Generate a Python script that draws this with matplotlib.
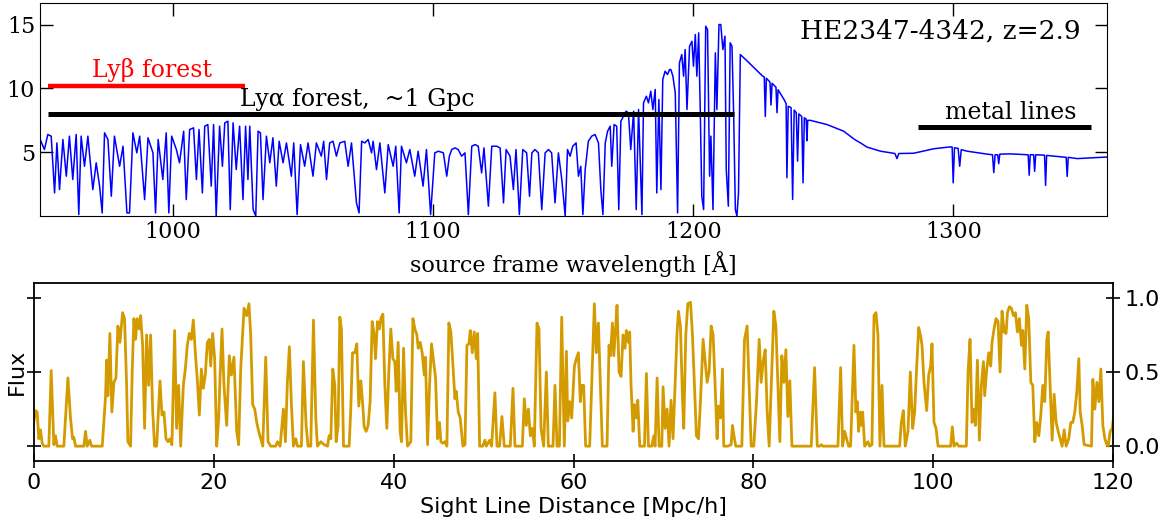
import numpy as np
import matplotlib.pyplot as plt

# ---- top panel: quasar spectrum (source frame wavelength [A], flux) ----
spec_lyb = [
    (948.8, 6.13), (950.7, 5.21), (952.0, 6.39), (953.3, 6.26), (954.6, 1.81), (955.5, 5.73),
    (956.5, 2.07), (957.8, 6.0), (959.1, 3.12), (960.3, 6.26), (961.6, 2.86), (962.9, 6.39),
    (963.9, 0.11), (964.8, 6.26), (966.1, 3.9), (967.4, 6.26), (969.3, 2.07), (970.6, 4.17),
    (971.9, 2.34), (972.9, 0.24), (973.8, 6.52), (975.1, 6.0), (976.4, 1.55), (977.6, 6.26),
    (979.6, 3.9), (980.9, 5.47), (982.4, 0.24), (983.4, 0.24), (984.7, 6.52), (986.2, 4.95),
    (987.3, 6.26), (989.2, 1.29), (990.5, 6.13), (992.4, 4.95), (993.4, 0.24), (994.4, 6.0),
    (996.2, 2.86), (997.5, 6.52), (998.5, 0.24), (999.6, 6.26), (1001.4, 5.21), (1002.6, 4.17),
    (1004.2, 6.65), (1005.2, 1.29), (1006.5, 6.78), (1008.0, 6.91), (1009.1, 2.86), (1010.1, 6.78),
    (1011.4, 1.81), (1012.3, 7.04), (1013.5, 7.17), (1014.8, 2.34), (1015.7, 7.17), (1016.7, 0.0),
    (1018.0, 7.04), (1019.1, 3.9), (1020.0, 7.3), (1021.2, 7.43), (1022.1, 0.5), (1023.2, 7.3),
    (1024.4, 3.64), (1025.7, 7.04), (1027.0, 1.29), (1028.0, 7.04), (1028.9, 2.86), (1029.6, 7.04),
    (1030.9, 0.5), (1031.9, 0.0), (1032.8, 6.65), (1033.7, 6.52), (1034.7, 1.29), (1036.0, 6.26),
    (1037.3, 4.17), (1038.5, 6.13), (1039.8, 2.34), (1040.9, 5.86), (1042.4, 4.17), (1043.7, 5.73),
    (1045.6, 3.12), (1046.5, 5.73), (1047.8, 0.11), (1049.1, 5.6), (1050.7, 3.9), (1052.0, 5.73),
    (1053.9, 3.12), (1055.2, 5.73), (1057.1, 4.69), (1058.0, 5.86), (1059.1, 2.86), (1060.3, 5.73),
    (1061.6, 5.86), (1062.9, 4.69), (1064.2, 5.73), (1066.1, 5.86), (1067.4, 3.9), (1068.7, 5.73),
    (1070.6, 1.03), (1071.6, 0.24), (1072.6, 5.86), (1073.8, 5.73), (1075.1, 6.0), (1076.4, 4.95),
    (1077.0, 5.86), (1078.3, 3.64), (1079.6, 5.73), (1081.5, 1.81), (1082.8, 5.6), (1084.7, 3.9),
    (1085.7, 5.47), (1087.0, 0.24), (1087.9, 5.47), (1089.8, 4.17), (1091.1, 5.21), (1093.0, 3.12),
    (1094.3, 5.08), (1096.2, 2.34), (1097.5, 5.21), (1099.1, 0.11), (1100.7, 4.95),
]

spec_lya = [
    (1102.1, 5.08), (1104.0, 4.95), (1105.3, 3.12), (1106.3, 4.69), (1107.2, 5.21), (1108.5, 5.34),
    (1109.7, 5.21), (1111.0, 4.69), (1112.3, 4.95), (1113.6, 0.11), (1114.9, 5.47), (1116.2, 5.6),
    (1117.4, 5.47), (1118.7, 3.38), (1119.6, 5.34), (1121.3, 0.77), (1122.6, 5.47), (1124.5, 5.47),
    (1125.8, 5.34), (1127.1, 1.03), (1128.1, 5.21), (1129.6, 4.69), (1130.9, 2.07), (1131.9, 5.21),
    (1133.2, 0.11), (1134.5, 5.21), (1136.0, 4.95), (1137.1, 1.55), (1138.0, 4.95), (1139.2, 5.21),
    (1140.5, 4.95), (1141.8, 0.5), (1143.1, 4.95), (1144.4, 5.21), (1145.6, 4.95), (1146.9, 1.03),
    (1148.2, 4.95), (1149.5, 2.86), (1150.8, 0.0), (1151.7, 5.21), (1152.7, 4.69), (1153.7, 5.47),
    (1155.0, 5.73), (1155.9, 3.12), (1156.8, 3.9), (1157.6, 0.11), (1158.5, 3.64), (1159.7, 5.86),
    (1161.0, 6.26), (1162.3, 6.39), (1163.6, 5.73), (1164.5, 2.07), (1165.3, 0.11), (1166.2, 5.73),
    (1167.1, 6.65), (1168.1, 7.04), (1168.7, 3.9), (1169.6, 7.17), (1170.6, 7.04), (1171.4, 0.5),
    (1172.2, 7.43), (1173.2, 7.82), (1174.2, 8.22), (1175.1, 8.09), (1176.0, 5.21), (1177.1, 8.22),
    (1178.1, 0.5), (1179.0, 8.35), (1180.3, 0.11), (1180.9, 8.87), (1182.0, 9.39), (1182.8, 8.87),
    (1183.7, 9.78), (1184.5, 8.35), (1185.4, 9.92), (1186.0, 1.81), (1186.8, 9.13), (1187.6, 2.07),
    (1188.3, 10.7), (1189.2, 11.35), (1190.1, 11.09), (1190.9, 11.48), (1191.4, 11.48), (1192.2, 10.96),
    (1193.1, 9.65), (1194.0, 0.24), (1194.7, 12.0), (1195.6, 12.66), (1196.3, 10.96), (1196.9, 13.05),
    (1197.6, 8.35), (1198.6, 13.31), (1199.5, 13.7), (1200.1, 11.75), (1200.8, 14.23), (1201.4, 10.96),
    (1202.1, 14.36), (1202.7, 8.35), (1203.3, 1.55), (1204.0, 0.5), (1204.8, 14.88), (1205.5, 14.62),
    (1206.3, 3.12), (1206.8, 6.26), (1207.6, 0.5), (1208.5, 12.79), (1209.1, 8.35), (1209.9, 15.01),
    (1210.6, 15.01), (1211.4, 13.05), (1212.2, 14.1), (1212.7, 3.64), (1213.5, 0.77), (1214.2, 13.58),
    (1214.9, 13.31), (1215.5, 8.35), (1216.2, 0.5), (1216.8, 0.0), (1217.4, 1.81), (1218.1, 12.66),
]

spec_red = [
    (1221.0, 12.1), (1224.0, 11.5), (1226.5, 11.0), (1227.3, 10.9), (1227.7, 7.8), (1228.1, 10.8),
    (1229.5, 10.5), (1229.9, 8.7), (1230.3, 10.4), (1231.8, 10.1), (1232.2, 8.1), (1232.6, 9.9),
    (1235.0, 9.1), (1235.7, 8.8), (1236.0, 3.0), (1236.5, 8.6), (1237.6, 8.5), (1238.2, 1.3),
    (1238.8, 8.3), (1239.6, 8.1), (1240.1, 4.3), (1240.6, 8.0), (1241.7, 7.8), (1242.2, 2.6),
    (1242.7, 7.7), (1243.4, 7.6), (1243.7, 5.9), (1244.0, 7.5), (1245.0, 7.5), (1251.4, 7.17),
    (1257.8, 6.65), (1262.0, 6.0), (1264.2, 5.74), (1266.8, 5.4), (1272.0, 5.08), (1277.5, 4.9),
    (1278.3, 4.5), (1279.0, 4.9), (1284.7, 4.92), (1292.4, 5.27), (1298.8, 5.42), (1299.5, 5.4),
    (1299.9, 2.6), (1300.4, 5.35), (1301.8, 5.3), (1302.4, 3.9), (1303.0, 5.2), (1305.3, 5.08),
    (1313.0, 4.85), (1315.0, 4.8), (1315.5, 3.4), (1316.0, 4.8), (1317.0, 4.8), (1317.4, 4.1),
    (1317.8, 4.85), (1321.9, 4.87), (1328.7, 4.8), (1329.1, 3.2), (1329.5, 4.8), (1330.8, 4.8),
    (1331.2, 3.5), (1331.6, 4.8), (1335.0, 4.77), (1335.4, 2.4), (1335.8, 4.75), (1343.3, 4.6),
    (1343.7, 3.1), (1344.1, 4.6), (1347.6, 4.5), (1352.0, 4.55), (1359.5, 4.63),
]

# annotation bars: (start, end, level)
lyb_bar = (951.9, 1027.7, 10.23)
lya_bar = (952.0, 1215.8, 7.96)
metal_bar = (1286.5, 1352.7, 6.96)

# ---- bottom panel: simulated sight line (distance [Mpc/h], flux) ----
sight_a = [
    (0.0, 0.17), (0.17, 0.24), (0.35, 0.23), (0.54, 0.05), (0.72, 0.11), (0.91, 0.02), (1.09, 0.0),
    (1.65, 0.0), (1.91, 0.51), (2.21, 0.01), (2.39, 0.07), (2.58, 0.0), (3.32, 0.0), (3.77, 0.46),
    (4.06, 0.19), (4.29, 0.05), (4.43, 0.06), (4.62, 0.0), (5.55, 0.0), (5.73, 0.10), (5.92, 0.0),
    (6.21, 0.04), (6.40, 0.0), (7.59, 0.0), (7.96, 0.34), (8.07, 0.58), (8.22, 0.34), (8.44, 0.76),
    (8.66, 0.23), (8.89, 0.43), (9.11, 0.46), (9.33, 0.81), (9.56, 0.70), (9.85, 0.90), (10.07, 0.86),
    (10.30, 0.41), (10.44, 0.03), (10.74, 0.0), (10.93, 0.52), (11.11, 0.86), (11.30, 0.72),
    (11.48, 0.86), (11.71, 0.79), (11.86, 0.88), (12.08, 0.68), (12.30, 0.12), (12.52, 0.75),
    (12.75, 0.41), (12.97, 0.75), (13.19, 0.25), (13.41, 0.0), (13.64, 0.0), (14.01, 0.44),
    (14.23, 0.21), (14.45, 0.23), (14.68, 0.05), (14.90, 0.03), (15.12, 0.05), (15.34, 0.01),
    (15.64, 0.78), (15.86, 0.12), (16.09, 0.41), (16.31, 0.0), (16.61, 0.41), (16.83, 0.52),
    (17.05, 0.68), (17.27, 0.76), (17.50, 0.72), (17.72, 0.85), (17.94, 0.63), (18.16, 0.45),
    (18.39, 0.21), (18.61, 0.52), (18.83, 0.39), (19.05, 0.48), (19.28, 0.70), (19.50, 0.72),
    (19.65, 0.54), (19.87, 0.76), (20.09, 0.59), (20.32, 0.0), (20.54, 0.19), (20.69, 0.46),
    (20.91, 0.79), (21.13, 0.41), (21.43, 0.14), (21.72, 0.61), (21.95, 0.48), (22.24, 0.60),
    (22.54, 0.10), (22.76, 0.01), (22.99, 0.52), (23.36, 0.93), (23.65, 0.88), (23.91, 0.96),
    (24.10, 0.75), (24.32, 0.28), (24.55, 0.25), (24.77, 0.16), (24.99, 0.10), (25.21, 0.05),
    (25.44, 0.0), (25.77, 0.60), (26.03, 0.03), (26.33, 0.0), (26.88, 0.0), (27.07, 0.03),
    (27.37, 0.0), (27.74, 0.25), (27.96, 0.03), (28.18, 0.43), (28.40, 0.67), (28.63, 0.28),
    (28.85, 0.0), (29.11, 0.05), (29.30, 0.0), (29.74, 0.0), (29.96, 0.57), (30.26, 0.14),
]

sight_b = [
    (30.48, 0.0), (30.78, 0.0), (31.08, 0.85), (31.34, 0.19), (31.52, 0.0), (31.89, 0.03),
    (32.27, 0.01), (32.64, 0.0), (32.82, 0.07), (33.01, 0.05), (33.23, 0.52), (33.45, 0.41),
    (33.60, 0.03), (33.82, 0.14), (34.01, 0.87), (34.19, 0.79), (34.42, 0.0), (35.05, 0.0),
    (35.23, 0.25), (35.42, 0.63), (35.68, 0.63), (35.90, 0.69), (36.12, 0.27), (36.35, 0.44),
    (36.57, 0.27), (36.72, 0.13), (36.94, 0.10), (37.16, 0.14), (37.38, 0.30), (37.61, 0.84),
    (37.83, 0.75), (37.98, 0.59), (38.20, 0.84), (38.42, 0.79), (38.57, 0.86), (38.80, 0.89),
    (39.02, 0.41), (39.24, 0.12), (39.46, 0.50), (39.68, 0.79), (39.91, 0.59), (40.13, 0.57),
    (40.28, 0.37), (40.50, 0.70), (40.72, 0.10), (40.87, 0.03), (41.10, 0.66), (41.32, 0.23),
    (41.54, 0.0), (41.91, 0.03), (42.14, 0.86), (42.36, 0.79), (42.58, 0.75), (42.73, 0.66),
    (42.95, 0.70), (43.17, 0.63), (43.40, 0.48), (43.54, 0.60), (43.77, 0.01), (43.99, 0.41),
    (44.21, 0.69), (44.44, 0.57), (44.66, 0.46), (44.88, 0.05), (45.10, 0.16), (45.25, 0.03),
    (45.47, 0.02), (45.70, 0.03), (45.92, 0.0), (46.14, 0.83), (46.36, 0.77), (46.59, 0.55),
    (46.81, 0.32), (46.96, 0.37), (47.18, 0.23), (47.40, 0.19), (47.70, 0.0), (47.93, 0.01),
    (48.15, 0.68), (48.37, 0.69), (48.52, 0.78), (48.74, 0.63), (48.96, 0.77), (49.19, 0.59),
    (49.34, 0.76), (49.56, 0.0), (49.89, 0.0), (50.15, 0.04), (50.30, 0.0), (50.67, 0.04),
    (50.89, 0.0), (51.26, 0.36), (51.49, 0.0), (51.78, 0.0), (52.04, 0.20), (52.30, 0.0),
    (52.97, 0.0), (53.27, 0.39), (53.49, 0.0), (54.31, 0.0), (54.53, 0.32), (54.75, 0.14),
    (54.98, 0.25), (55.20, 0.07), (55.42, 0.12), (55.64, 0.0), (55.94, 0.83), (56.16, 0.79),
    (56.39, 0.12), (56.68, 0.0), (56.98, 0.50), (57.20, 0.0), (57.72, 0.0), (57.94, 0.41),
    (58.17, 0.0), (58.43, 0.0), (58.69, 0.87), (58.98, 0.0), (59.21, 0.64), (59.36, 0.17),
    (59.58, 0.30), (59.80, 0.19), (60.10, 0.54), (60.32, 0.59), (60.54, 0.63),
]

sight_c = [
    (60.76, 0.30), (60.91, 0.41), (61.13, 0.41), (61.35, 0.0), (61.80, 0.0), (62.02, 0.41),
    (62.32, 0.96), (62.54, 0.63), (62.77, 0.83), (62.99, 0.41), (63.21, 0.0), (63.73, 0.0),
    (63.95, 0.68), (64.10, 0.61), (64.33, 0.83), (64.48, 0.61), (64.70, 0.81), (64.84, 0.95),
    (65.07, 0.50), (65.29, 0.47), (65.51, 0.75), (65.73, 0.66), (65.88, 0.78), (66.11, 0.70),
    (66.25, 0.77), (66.40, 0.41), (66.63, 0.10), (66.77, 0.28), (67.00, 0.19), (67.15, 0.31),
    (67.37, 0.0), (67.89, 0.0), (68.11, 0.49), (68.33, 0.0), (68.70, 0.0), (68.93, 0.07),
    (69.07, 0.0), (69.30, 0.46), (69.52, 0.0), (69.82, 0.0), (69.96, 0.40), (70.19, 0.12),
    (70.41, 0.25), (70.63, 0.0), (70.85, 0.31), (71.07, 0.05), (71.30, 0.41), (71.52, 0.77),
    (71.67, 0.91), (71.89, 0.81), (72.12, 0.32), (72.26, 0.12), (72.49, 0.75), (72.71, 0.96),
    (73.01, 0.97), (73.23, 0.75), (73.45, 0.41), (73.67, 0.07), (73.90, 0.05), (74.12, 0.30),
    (74.41, 0.72), (74.64, 0.57), (74.86, 0.43), (75.08, 0.50), (75.31, 0.81), (75.53, 0.75),
    (75.75, 0.41), (75.97, 0.05), (76.12, 0.27), (76.34, 0.19), (76.57, 0.52), (76.71, 0.0),
    (77.16, 0.0), (77.53, 0.01), (77.68, 0.14), (77.90, 0.05), (78.05, 0.0), (78.72, 0.0),
    (79.02, 0.72), (79.31, 0.81), (79.53, 0.41), (79.76, 0.0), (80.05, 0.0), (80.35, 0.30),
    (80.65, 0.72), (80.87, 0.43), (81.09, 0.57), (81.32, 0.65), (81.54, 0.23), (81.76, 0.0),
    (81.99, 0.41), (82.28, 0.91), (82.51, 0.81), (82.73, 0.41), (82.95, 0.03), (83.17, 0.61),
    (83.40, 0.43), (83.62, 0.65), (83.84, 0.20), (84.06, 0.44), (84.29, 0.0), (86.44, 0.0),
    (86.81, 0.53), (87.11, 0.0), (87.37, 0.0), (87.55, 0.01), (87.74, 0.0), (89.41, 0.0),
    (89.71, 0.53), (89.93, 0.0), (90.15, 0.10), (90.37, 0.05), (90.59, 0.0),
]

sight_d = [
    (90.82, 0.0), (91.19, 0.68), (91.41, 0.23), (91.56, 0.30), (91.71, 0.10), (91.86, 0.23),
    (92.01, 0.14), (92.16, 0.23), (92.38, 0.0), (92.75, 0.03), (92.93, 0.0), (93.19, 0.01),
    (93.42, 0.88), (93.64, 0.90), (93.86, 0.75), (94.08, 0.0), (94.31, 0.41), (94.53, 0.0),
    (96.27, 0.0), (96.46, 0.16), (96.68, 0.24), (96.90, 0.0), (97.20, 0.10), (97.46, 0.50),
    (97.72, 0.12), (97.94, 0.23), (98.17, 0.54), (98.39, 0.80), (98.61, 0.74), (98.76, 0.68),
    (98.98, 0.43), (99.28, 0.24), (99.50, 0.48), (99.72, 0.54), (99.87, 0.69), (100.09, 0.16),
    (100.32, 0.12), (100.54, 0.0), (101.95, 0.0), (102.13, 0.13), (102.32, 0.0), (102.62, 0.02),
    (102.84, 0.0), (103.69, 0.0), (103.88, 0.50), (104.10, 0.72), (104.32, 0.16), (104.55, 0.25),
    (104.70, 0.14), (104.92, 0.58), (105.14, 0.04), (105.36, 0.41), (105.59, 0.57), (105.73, 0.34),
    (105.96, 0.52), (106.18, 0.63), (106.40, 0.54), (106.55, 0.70), (106.77, 0.79), (106.99, 0.86),
    (107.22, 0.84), (107.44, 0.50), (107.66, 0.91), (107.89, 0.77), (108.11, 0.76), (108.26, 0.90),
    (108.48, 0.94), (108.70, 0.93), (108.93, 0.88), (109.15, 0.90), (109.37, 0.77), (109.59, 0.86),
    (109.82, 0.68), (109.97, 0.78), (110.19, 0.52), (110.41, 0.95), (110.63, 0.86), (110.86, 0.43),
    (111.08, 0.41), (111.30, 0.03), (111.52, 0.16), (111.75, 0.07), (111.97, 0.21), (112.19, 0.41),
    (112.41, 0.30), (112.64, 0.72), (112.79, 0.77), (113.01, 0.41), (113.23, 0.04), (113.45, 0.35),
    (113.68, 0.16), (113.90, 0.10), (114.12, 0.05), (114.34, 0.0), (114.57, 0.11), (114.79, 0.0),
    (115.08, 0.05), (115.31, 0.16), (115.53, 0.16), (115.75, 0.23), (115.98, 0.37), (116.20, 0.59),
    (116.35, 0.23), (116.57, 0.14), (116.79, 0.01), (117.61, 0.0), (117.76, 0.45), (117.98, 0.25),
    (118.21, 0.43), (118.43, 0.30), (118.65, 0.52), (118.87, 0.14), (119.10, 0.05), (119.32, 0.01),
    (119.46, 0.0), (119.69, 0.10), (119.91, 0.12), (120.13, 0.23),
]

spec = np.array(spec_lyb + spec_lya + spec_red)
sight = np.array(sight_a + sight_b + sight_c + sight_d)

W, H = 1175, 525
fig = plt.figure(figsize=(W / 100, H / 100), dpi=100)
serif = 'DejaVu Serif'
sans = 'DejaVu Sans'

##############################
# top panel
##############################
ax1 = fig.add_axes([40 / W, 1 - 216 / H, (1107 - 40) / W, (216 - 3) / H])
ax1.plot(spec[:, 0], spec[:, 1], color='blue', lw=1.1)
ax1.plot(lyb_bar[:2], [lyb_bar[2]] * 2, color='red', lw=3.2, solid_capstyle='butt')
ax1.plot(lya_bar[:2], [lya_bar[2]] * 2, color='black', lw=3.6, solid_capstyle='butt')
ax1.plot(metal_bar[:2], [metal_bar[2]] * 2, color='black', lw=3.6, solid_capstyle='butt')
ax1.text(992, 11.45, 'Lyβ forest', color='red', fontsize=17, family=serif, ha='center', va='center')
ax1.text(1071, 9.1, 'Lyα forest,  ~1 Gpc', color='black', fontsize=17, family=serif,
         ha='center', va='center')
ax1.text(1322, 8.1, 'metal lines', color='black', fontsize=17, family=serif, ha='center', va='center')
ax1.text(1349, 14.5, 'HE2347-4342, z=2.9', color='black', fontsize=19, family=serif,
         ha='right', va='center')
ax1.set_xlim(949, 1359)
ax1.set_ylim(0, 16.7)
ax1.set_xticks([1000, 1100, 1200, 1300])
ax1.set_yticks([5, 10, 15])
ax1.tick_params(direction='in', length=9, width=1, top=True, right=True, labelsize=16)
for lab in ax1.get_xticklabels() + ax1.get_yticklabels():
    lab.set_family(serif)
ax1.set_xlabel('source frame wavelength [Å]', fontsize=16, family=serif, labelpad=6)

##############################
# bottom panel
##############################
ax2 = fig.add_axes([34 / W, 1 - 461 / H, (1113 - 34) / W, (461 - 283) / H])
ax2.plot(sight[:, 0], sight[:, 1], color='#d49b00', lw=2.0)
ax2.set_xlim(0, 120)
ax2.set_ylim(-0.1, 1.1)
ax2.set_xticks([0, 20, 40, 60, 80, 100, 120])
ax2.set_yticks([0.0, 0.5, 1.0])
ax2.set_yticklabels(['0.0', '0.5', '1.0'])
ax2.tick_params(axis='x', direction='inout', length=10, width=1.2, top=False, labelsize=16)
ax2.tick_params(axis='y', direction='inout', length=10, width=1.2, left=True, right=True,
                labelleft=False, labelright=True, labelsize=16)
for sp in ax2.spines.values():
    sp.set_linewidth(1.3)
ax2.set_xlabel('Sight Line Distance [Mpc/h]', fontsize=16, family=sans, labelpad=3)
ax2.set_ylabel('Flux', fontsize=16, family=sans)
ax2.yaxis.set_label_coords(-0.007, 0.5)

fig.savefig('out.png', dpi=100)
